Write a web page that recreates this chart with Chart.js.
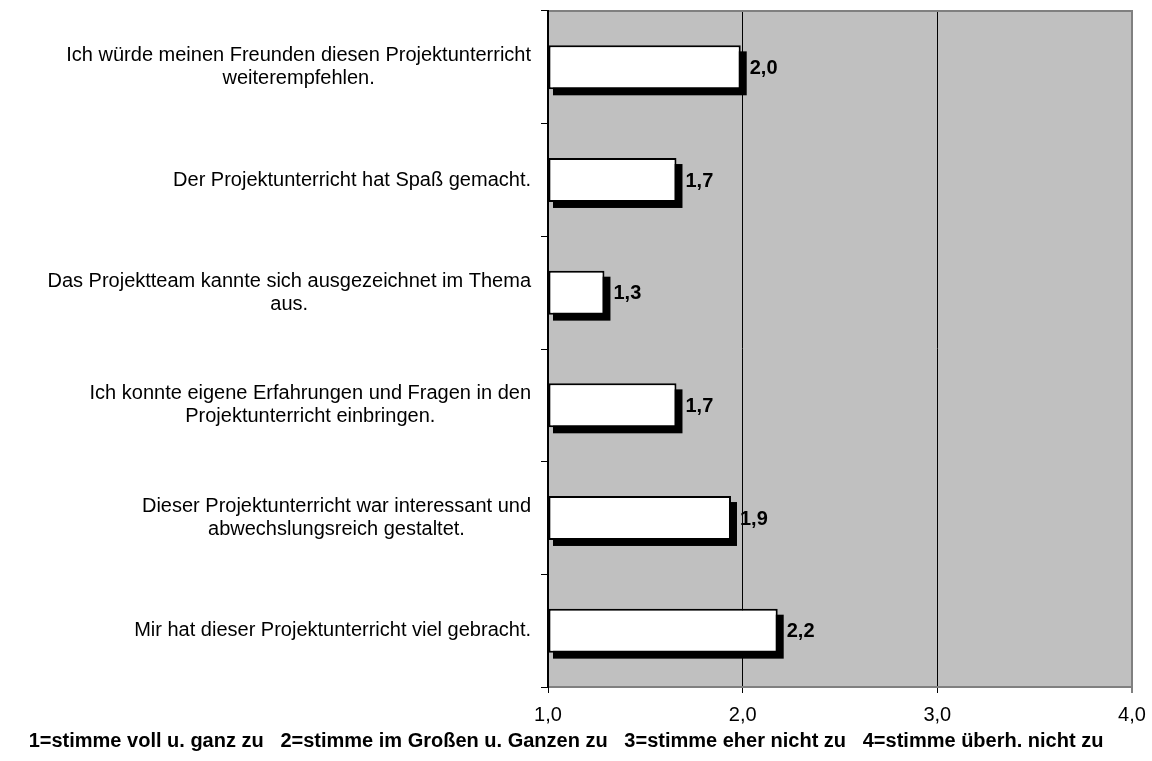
<!DOCTYPE html>
<html>
<head>
<meta charset="utf-8">
<script src="https://cdn.jsdelivr.net/npm/chart.js@4.4.0/dist/chart.umd.min.js"></script>
<style>
  html, body { margin: 0; padding: 0; background: #fff; }
  canvas { display: block; }
</style>
</head>
<body>
<canvas id="myChartBewertung" width="1152" height="761"></canvas>
<script>
  // Fragen, eine Zeile pro Element
  const fragen = [
    ["Ich würde meinen Freunden diesen Projektunterricht", "weiterempfehlen."],
    ["Der Projektunterricht hat Spaß gemacht."],
    ["Das Projektteam kannte sich ausgezeichnet im Thema", "aus."],
    ["Ich konnte eigene Erfahrungen und Fragen in den", "Projektunterricht einbringen."],
    ["Dieser Projektunterricht war interessant und", "abwechslungsreich gestaltet."],
    ["Mir hat dieser Projektunterricht viel gebracht."]
  ];
  const mittelwerte = [1.99, 1.66, 1.29, 1.66, 1.94, 2.18];
  const skala = [1, 2, 3, 4];
  const legende = "1=stimme voll u. ganz zu   2=stimme im Großen u. Ganzen zu   3=stimme eher nicht zu   4=stimme überh. nicht zu";

  const schrift = '"Liberation Sans", Arial, sans-serif';

  function komma(v) {
    return Number(v).toFixed(1).replace(".", ",");
  }

  // grauer Hintergrund + Rahmen oben
  const hintergrund = {
    id: "hintergrund",
    beforeDraw: function (chart) {
      const ctx = chart.ctx;
      const a = chart.chartArea;
      ctx.save();
      ctx.fillStyle = "#c0c0c0";
      ctx.fillRect(a.left, a.top, a.right - a.left, a.bottom - a.top);
      ctx.restore();
    },
    afterDraw: function (chart) {
      const ctx = chart.ctx;
      const a = chart.chartArea;
      ctx.save();
      ctx.strokeStyle = "#808080";
      ctx.lineWidth = 2;
      ctx.beginPath();
      ctx.moveTo(a.left + 1, a.top);
      ctx.lineTo(a.right + 1, a.top);
      ctx.stroke();
      ctx.restore();
    }
  };

  // Schatten hinter den Balken
  const schatten = {
    id: "schatten",
    beforeDatasetsDraw: function (chart) {
      const ctx = chart.ctx;
      const links = chart.scales.x.getPixelForValue(skala[0]);
      ctx.save();
      ctx.fillStyle = "#000";
      chart.getDatasetMeta(0).data.forEach(function (bar) {
        const h = bar.height;
        ctx.fillRect(links + 5, bar.y - h / 2 + 6, bar.x - links + 1, h);
      });
      ctx.restore();
    }
  };

  // Werte rechts neben den Balken
  const werte = {
    id: "werte",
    afterDatasetsDraw: function (chart) {
      const ctx = chart.ctx;
      ctx.save();
      ctx.font = "bold 20px " + schrift;
      ctx.fillStyle = "#000";
      ctx.textAlign = "left";
      ctx.textBaseline = "middle";
      chart.getDatasetMeta(0).data.forEach(function (bar, i) {
        ctx.fillText(komma(mittelwerte[i]), bar.x + 9, bar.y + 1);
      });
      ctx.restore();
    }
  };

  // Beschriftung links: Block rechtsbündig, Zeilen zentriert
  const fragenText = {
    id: "fragenText",
    afterDraw: function (chart) {
      const ctx = chart.ctx;
      const y = chart.scales.y;
      const rechts = y.right - 17;
      const zeile = 23;
      ctx.save();
      ctx.font = "20px " + schrift;
      ctx.fillStyle = "#000";
      ctx.textAlign = "center";
      ctx.textBaseline = "middle";
      fragen.forEach(function (zeilen, i) {
        const breite = Math.max.apply(null, zeilen.map(function (z) {
          return ctx.measureText(z).width;
        }));
        const mitte = y.getPixelForTick(i);
        const start = mitte - (zeilen.length - 1) * zeile / 2;
        zeilen.forEach(function (z, k) {
          ctx.fillText(z, rechts - breite / 2, start + k * zeile);
        });
      });
      ctx.restore();
    }
  };

  const ctxBewertung = document.getElementById("myChartBewertung").getContext("2d");

  const myChartBewertung = new Chart(ctxBewertung, {
    type: "bar",
    data: {
      labels: fragen,
      datasets: [
        {
          data: mittelwerte,
          base: skala[0],
          backgroundColor: "#ffffff",
          borderColor: "#000000",
          borderWidth: 2,
          borderSkipped: false,
          barPercentage: 0.39,
          categoryPercentage: 1
        }
      ]
    },
    options: {
      indexAxis: "y",
      responsive: false,
      animation: false,
      devicePixelRatio: 1,
      layout: { padding: { top: 11, right: 20, left: 0, bottom: 0 } },
      plugins: {
        legend: { display: false },
        tooltip: { enabled: false },
        title: {
          display: true,
          position: "bottom",
          text: legende,
          color: "#000",
          font: { family: schrift, size: 20, weight: "bold" },
          padding: { top: 0, bottom: 8 }
        }
      },
      scales: {
        x: {
          min: skala[0],
          max: skala[skala.length - 1],
          afterFit: function (s) {
            s.height = 42;
            s.paddingRight = 0;
            s.paddingLeft = 0;
          },
          ticks: {
            stepSize: 1,
            padding: 10,
            color: "#000",
            font: { family: schrift, size: 20 },
            callback: function (v) { return komma(v); }
          },
          grid: {
            color: function (c) { return c.tick && c.tick.value === skala[skala.length - 1] ? "#808080" : "#000"; },
            lineWidth: function (c) { return c.tick && c.tick.value === skala[skala.length - 1] ? 2 : 1; },
            tickLength: 6
          },
          border: { color: "#808080", width: 2 }
        },
        y: {
          afterFit: function (s) { s.width = 548; },
          ticks: { display: false },
          grid: {
            drawOnChartArea: false,
            offset: true,
            color: "#000",
            tickLength: 7
          },
          border: { color: "#000", width: 2 }
        }
      }
    },
    plugins: [hintergrund, schatten, werte, fragenText]
  });
</script>
</body>
</html>
